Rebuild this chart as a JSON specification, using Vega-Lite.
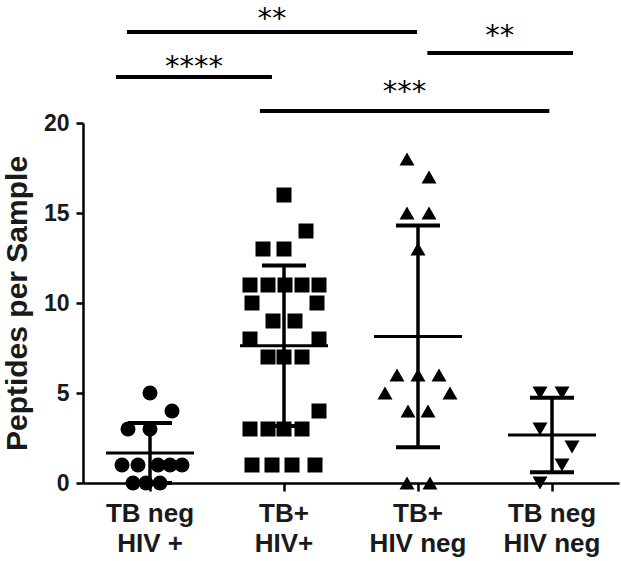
{
  "$schema": "https://vega.github.io/schema/vega-lite/v6.json",
  "width": 536,
  "height": 360,
  "autosize": {"type": "none"},
  "padding": {"left": 83, "top": 123, "right": 2, "bottom": 78},
  "config": {"view": {"stroke": null}, "font": "Liberation Sans"},
  "layer": [
    {
      "data": {"values": [
        {"group": "TB neg HIV +", "value": 5, "slot": 0},
        {"group": "TB neg HIV +", "value": 4, "slot": 1.1},
        {"group": "TB neg HIV +", "value": 3, "slot": -1.1},
        {"group": "TB neg HIV +", "value": 3, "slot": 0},
        {"group": "TB neg HIV +", "value": 1, "slot": -1.4},
        {"group": "TB neg HIV +", "value": 1, "slot": -0.6},
        {"group": "TB neg HIV +", "value": 1, "slot": 0.4},
        {"group": "TB neg HIV +", "value": 1, "slot": 1.0},
        {"group": "TB neg HIV +", "value": 1, "slot": 1.6},
        {"group": "TB neg HIV +", "value": 0, "slot": -0.85},
        {"group": "TB neg HIV +", "value": 0, "slot": -0.2},
        {"group": "TB neg HIV +", "value": 0, "slot": 0.5},
        {"group": "TB+ HIV+", "value": 16, "slot": 0},
        {"group": "TB+ HIV+", "value": 14, "slot": 1.1},
        {"group": "TB+ HIV+", "value": 13, "slot": -1.05},
        {"group": "TB+ HIV+", "value": 13, "slot": 0},
        {"group": "TB+ HIV+", "value": 11, "slot": -1.7},
        {"group": "TB+ HIV+", "value": 11, "slot": -0.8},
        {"group": "TB+ HIV+", "value": 11, "slot": 0.05},
        {"group": "TB+ HIV+", "value": 11, "slot": 0.9},
        {"group": "TB+ HIV+", "value": 11, "slot": 1.75},
        {"group": "TB+ HIV+", "value": 10, "slot": -1.6},
        {"group": "TB+ HIV+", "value": 10, "slot": 1.65},
        {"group": "TB+ HIV+", "value": 9, "slot": -0.55},
        {"group": "TB+ HIV+", "value": 9, "slot": 0.55},
        {"group": "TB+ HIV+", "value": 8, "slot": -1.7},
        {"group": "TB+ HIV+", "value": 8, "slot": 1.75},
        {"group": "TB+ HIV+", "value": 7, "slot": -0.8},
        {"group": "TB+ HIV+", "value": 7, "slot": 0},
        {"group": "TB+ HIV+", "value": 7, "slot": 0.9},
        {"group": "TB+ HIV+", "value": 4, "slot": 1.75},
        {"group": "TB+ HIV+", "value": 3, "slot": -1.7},
        {"group": "TB+ HIV+", "value": 3, "slot": -0.8},
        {"group": "TB+ HIV+", "value": 3, "slot": 0},
        {"group": "TB+ HIV+", "value": 3, "slot": 0.9},
        {"group": "TB+ HIV+", "value": 1, "slot": -1.6},
        {"group": "TB+ HIV+", "value": 1, "slot": -0.6},
        {"group": "TB+ HIV+", "value": 1, "slot": 0.4},
        {"group": "TB+ HIV+", "value": 1, "slot": 1.55},
        {"group": "TB+ HIV neg", "value": 18, "slot": -0.55},
        {"group": "TB+ HIV neg", "value": 17, "slot": 0.55},
        {"group": "TB+ HIV neg", "value": 15, "slot": -0.55},
        {"group": "TB+ HIV neg", "value": 15, "slot": 0.55},
        {"group": "TB+ HIV neg", "value": 13, "slot": 0},
        {"group": "TB+ HIV neg", "value": 6, "slot": -1.05},
        {"group": "TB+ HIV neg", "value": 6, "slot": 0},
        {"group": "TB+ HIV neg", "value": 6, "slot": 1.05},
        {"group": "TB+ HIV neg", "value": 5, "slot": -1.65},
        {"group": "TB+ HIV neg", "value": 5, "slot": 1.6},
        {"group": "TB+ HIV neg", "value": 4, "slot": -0.5},
        {"group": "TB+ HIV neg", "value": 4, "slot": 0.5},
        {"group": "TB+ HIV neg", "value": 0, "slot": -0.55},
        {"group": "TB+ HIV neg", "value": 0, "slot": 0.6},
        {"group": "TB neg HIV neg", "value": 5, "slot": -0.6},
        {"group": "TB neg HIV neg", "value": 5, "slot": 0.5},
        {"group": "TB neg HIV neg", "value": 3, "slot": -0.6},
        {"group": "TB neg HIV neg", "value": 2, "slot": 1.0},
        {"group": "TB neg HIV neg", "value": 1, "slot": 0.5},
        {"group": "TB neg HIV neg", "value": 0, "slot": -0.6}
      ]},
      "layer": [
        {
          "mark": {"type": "point", "filled": true, "size": 225, "opacity": 1, "color": "#000"},
          "encoding": {
            "x": {
              "field": "group", "type": "nominal",
              "sort": ["TB neg HIV +", "TB+ HIV+", "TB+ HIV neg", "TB neg HIV neg"],
              "scale": {"type": "band", "paddingInner": 0, "paddingOuter": 0},
              "axis": {
                "title": null,
                "labelExpr": "split(replace(datum.label, ' HIV', '|HIV'), '|')",
                "labelAngle": 0,
                "labelFontSize": 26,
                "labelFontWeight": "bold",
                "labelColor": "#1a1a1a",
                "labelLineHeight": 30,
                "labelPadding": 9,
                "labelBaseline": "top",
                "tickSize": 8,
                "tickWidth": 2.5,
                "tickColor": "#000",
                "domainColor": "#000",
                "domainWidth": 2.5,
                "bandPosition": 0.5
              }
            },
            "xOffset": {"field": "slot", "type": "quantitative", "scale": {"domain": [-3.35, 3.35]}},
            "y": {
              "field": "value", "type": "quantitative",
              "title": "Peptides per Sample",
              "scale": {"domain": [0, 20], "nice": false},
              "axis": {
                "values": [0, 5, 10, 15, 20],
                "grid": false,
                "labelFlush": false,
                "labelFontSize": 23,
                "labelFontWeight": "bold",
                "labelColor": "#1a1a1a",
                "labelPadding": 7,
                "tickSize": 7,
                "tickWidth": 2.5,
                "tickColor": "#000",
                "domainColor": "#000",
                "domainWidth": 2.5,
                "titleFontSize": 30,
                "titleFontWeight": "bold",
                "titleColor": "#1a1a1a",
                "titlePadding": 11
              }
            },
            "shape": {
              "field": "group", "type": "nominal",
              "scale": {"domain": ["TB neg HIV +", "TB+ HIV+", "TB+ HIV neg", "TB neg HIV neg"], "range": ["circle", "square", "triangle-up", "triangle-down"]},
              "legend": null
            }
          }
        },
        {
          "mark": {"type": "errorbar", "extent": "stdev", "ticks": {"size": 44, "thickness": 4, "color": "#000", "opacity": 1}, "rule": {"strokeWidth": 3.5, "color": "#000", "opacity": 1}},
          "encoding": {
            "x": {"field": "group", "type": "nominal", "sort": ["TB neg HIV +", "TB+ HIV+", "TB+ HIV neg", "TB neg HIV neg"]},
            "y": {"field": "value", "type": "quantitative", "title": "Peptides per Sample", "scale": {"domain": [0, 20], "nice": false}}
          }
        },
        {
          "mark": {"type": "tick", "size": 88, "thickness": 3, "color": "#000", "opacity": 1},
          "encoding": {
            "x": {"field": "group", "type": "nominal", "sort": ["TB neg HIV +", "TB+ HIV+", "TB+ HIV neg", "TB neg HIV neg"]},
            "y": {"aggregate": "mean", "field": "value", "type": "quantitative", "title": "Peptides per Sample", "scale": {"domain": [0, 20], "nice": false}}
          }
        }
      ]
    },
    {
      "data": {"values": [
        {"label": "**", "x1": 0.828, "x2": 2.993, "xm": 1.91, "ly": 25.06, "ty": 26.56},
        {"label": "****", "x1": 0.746, "x2": 1.91, "xm": 1.328, "ly": 22.56, "ty": 23.91},
        {"label": "***", "x1": 1.82, "x2": 3.98, "xm": 2.9, "ly": 20.67, "ty": 22.52},
        {"label": "**", "x1": 3.07, "x2": 4.157, "xm": 3.61, "ly": 23.89, "ty": 25.63}
      ]},
      "layer": [
        {
          "mark": {"type": "rule", "strokeWidth": 4, "color": "#000"},
          "encoding": {
            "x": {"field": "x1", "type": "quantitative", "scale": {"domain": [0.5, 4.5], "nice": false, "zero": false}, "axis": null},
            "x2": {"field": "x2"},
            "y": {"field": "ly", "type": "quantitative", "title": "Peptides per Sample", "scale": {"domain": [0, 20], "nice": false}}
          }
        },
        {
          "mark": {"type": "text", "font": "DejaVu Sans", "fontSize": 29, "baseline": "top", "align": "center", "color": "#000"},
          "encoding": {
            "x": {"field": "xm", "type": "quantitative"},
            "y": {"field": "ty", "type": "quantitative"},
            "text": {"field": "label"}
          }
        }
      ]
    }
  ],
  "resolve": {"scale": {"x": "independent"}}
}
